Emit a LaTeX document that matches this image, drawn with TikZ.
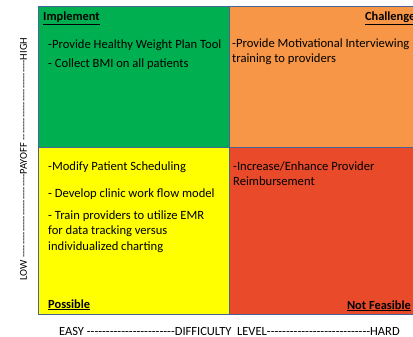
\documentclass[tikz,border=0pt]{standalone}
\usepackage{fontspec}
\setmainfont{Carlito}
% a run of single hyphens, kept apart so they never merge into dashes
\ExplSyntaxOn
\NewDocumentCommand\dashrun{m}{\prg_replicate:nn{#1}{-\kern0pt}}
\ExplSyntaxOff
% stacked lines whose baseline is that of the first line
\newcommand\lines[1]{\begin{tabular}[t]{@{}l@{}}#1\end{tabular}}
\definecolor{implgreen}{RGB}{0,176,80}
\definecolor{challorange}{RGB}{247,150,70}
\definecolor{possyellow}{RGB}{255,255,0}
\definecolor{nofeasred}{RGB}{232,74,42}
\definecolor{gridblue}{RGB}{72,100,150}
\begin{document}
\begin{tikzpicture}[x=1pt,y=-1pt,
  quad/.style={draw=gridblue,line width=0.8pt,anchor=north west,inner sep=0pt,outer sep=0pt},
  body/.style={anchor=base west,inner sep=0pt,
    font=\fontsize{12.6}{15.5}\selectfont},
  ttl/.style={inner sep=0pt,font=\fontsize{12.4}{14}\selectfont\bfseries},
  axis/.style={inner sep=0pt,font=\fontsize{10.5}{12}\selectfont},
  baxis/.style={inner sep=0pt,anchor=base,font=\fontsize{12.5}{14}\selectfont}]
\useasboundingbox (0,0) rectangle (413,337);
\clip (0,0) rectangle (413,337);

% the four quadrants of the payoff / difficulty matrix
\node[quad,fill=implgreen,minimum width=191pt,minimum height=141pt] (implq) at (38,6) {};
\node[quad,fill=challorange,minimum width=196pt,minimum height=141pt] (challq) at (229,6) {};
\node[quad,fill=possyellow,minimum width=191pt,minimum height=167pt] (possq) at (38,147) {};
\node[quad,fill=nofeasred,minimum width=196pt,minimum height=167pt] (nofq) at (229,147) {};

% Implement
\node[ttl,anchor=base west] (implt) at (43,21) {\underline{Implement}};
\node[body] (i1) at (48,49) {-Provide Healthy Weight Plan Tool};
\node[body] (i2) at (48,68) {- Collect BMI on all patients};

% Challenges
\node[ttl,anchor=base east] (challt) at (420.5,21) {\underline{Challenges}};
\node[body,font=\fontsize{12.6}{15}\selectfont] (c1) at (232,48)
  {\lines{-Provide Motivational Interviewing\\training to providers}};

% Possible
\node[body] (p1) at (48,171) {-Modify Patient Scheduling};
\node[body] (p2) at (48,197) {- Develop clinic work flow model};
\node[body] (p3) at (48,219)
  {\lines{- Train providers to utilize EMR\\for data tracking versus\\individualized charting}};
\node[ttl,anchor=base west] (posst) at (48,308) {\underline{Possible}};

% Not Feasible
\node[body,font=\fontsize{12.6}{15}\selectfont] (n1) at (233,171)
  {\lines{-Increase/Enhance Provider\\Reimbursement}};
\node[ttl,anchor=base east] (noft) at (411,309) {\underline{Not Feasible}};

% axes
\node[axis,rotate=90] (payoff) at (23.5,159) {LOW \dashrun{26} PAYOFF \dashrun{25} HIGH};
\node[baxis] (difficulty) at (229.5,335) {EASY \dashrun{23} DIFFICULTY\ \ LEVEL\dashrun{27}HARD};
\end{tikzpicture}
\end{document}
